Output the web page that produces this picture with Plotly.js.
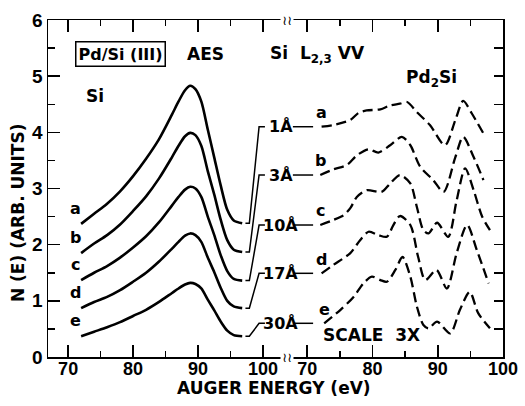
<!DOCTYPE html>
<html>
<head>
<meta charset="utf-8">
<script src="https://cdn.plot.ly/plotly-3.0.1.min.js"></script>
<style>html,body{margin:0;padding:0;background:#fff;}#chart{width:525px;height:406px;}</style>
</head>
<body>
<div id="chart"></div>
<script>
// ---- Data ----
// Left panel: Si L2,3VV, energies (eV)
const siEnergy = [72, 74, 76, 78, 80, 82, 84, 86, 87, 88, 88.8, 89.6, 90.5, 91.5, 92.5, 93.5, 94.5, 95.5, 96.8];
const siA = [2.37, 2.55, 2.73, 2.95, 3.22, 3.53, 3.88, 4.32, 4.55, 4.75, 4.83, 4.77, 4.55, 4.05, 3.55, 3.05, 2.62, 2.43, 2.38];
const siB = [1.85, 2.02, 2.17, 2.36, 2.60, 2.86, 3.18, 3.56, 3.76, 3.93, 3.99, 3.95, 3.76, 3.31, 2.89, 2.44, 2.08, 1.91, 1.87];
const siC = [1.37, 1.50, 1.62, 1.77, 1.95, 2.15, 2.40, 2.70, 2.85, 2.98, 3.03, 3.00, 2.85, 2.50, 2.17, 1.81, 1.53, 1.39, 1.36];
const siD = [0.87, 0.98, 1.07, 1.19, 1.34, 1.50, 1.70, 1.93, 2.05, 2.16, 2.20, 2.17, 2.05, 1.77, 1.51, 1.23, 1.00, 0.90, 0.87];
const siE = [0.37, 0.45, 0.53, 0.62, 0.73, 0.84, 0.98, 1.14, 1.22, 1.29, 1.32, 1.30, 1.22, 1.02, 0.83, 0.63, 0.47, 0.39, 0.37];

// Right panel: Pd2Si (scale 3X)
const pdAx = [72.2, 74.0, 76.6, 77.9, 79.1, 81.2, 82.7, 84.2, 85.3, 86.8, 88.8, 91.1, 92.7, 93.9, 95.2, 97.0];
const pdAy = [4.10, 4.13, 4.22, 4.35, 4.39, 4.41, 4.48, 4.51, 4.54, 4.36, 4.13, 3.77, 4.22, 4.56, 4.34, 3.98];
const pdBx = [72.0, 74.0, 76.1, 77.6, 79.4, 80.9, 82.7, 84.5, 85.8, 87.3, 89.3, 90.9, 92.7, 93.9, 95.5, 97.0];
const pdBy = [3.24, 3.34, 3.42, 3.59, 3.70, 3.64, 3.77, 3.92, 3.77, 3.39, 3.15, 2.94, 3.56, 3.92, 3.56, 3.15];
const pdCx = [72.0, 74.0, 75.5, 76.6, 77.6, 79.1, 81.4, 82.7, 84.2, 85.8, 86.8, 87.8, 88.6, 89.9, 91.6, 92.9, 94.2, 95.5, 96.8, 98.0];
const pdCy = [2.35, 2.44, 2.52, 2.65, 2.85, 2.97, 2.94, 3.09, 3.24, 3.09, 2.67, 2.26, 2.20, 2.39, 2.14, 2.79, 3.36, 2.97, 2.50, 2.26];
const pdDx = [72.2, 74.0, 76.6, 78.1, 79.4, 80.9, 82.2, 83.2, 84.2, 85.8, 87.0, 88.1, 89.8, 91.4, 92.9, 94.5, 96.0, 97.8];
const pdDy = [1.49, 1.64, 1.85, 2.08, 2.23, 2.17, 2.14, 2.35, 2.51, 2.35, 1.78, 1.37, 1.55, 1.22, 1.85, 2.35, 1.90, 1.31];
const pdEx = [72.6, 75.1, 77.1, 78.6, 79.9, 81.2, 82.2, 83.5, 84.6, 85.8, 86.8, 87.8, 88.6, 89.9, 91.9, 93.4, 94.9, 96.2, 98.0];
const pdEy = [0.60, 0.84, 1.07, 1.31, 1.43, 1.37, 1.34, 1.55, 1.78, 1.43, 0.90, 0.57, 0.51, 0.63, 0.42, 0.84, 1.16, 0.78, 0.51];

const curveLetters = ['a', 'b', 'c', 'd', 'e'];
const thicknessLabels = ['1Å', '3Å', '10Å', '17Å', '30Å'];
const xTickVals = [70, 80, 90, 100];

// ---- Build chart ----
const TICKFONT = 'Liberation Sans, Arial, Helvetica, sans-serif';
const FONT = 'DejaVu Sans, Verdana, sans-serif';
const bold = (size, fam) => ({family: fam || FONT, size: size, color: '#000', weight: 'bold'});
const siSeries = [siA, siB, siC, siD, siE];
const pdSeries = [[pdAx, pdAy], [pdBx, pdBy], [pdCx, pdCy], [pdDx, pdDy], [pdEx, pdEy]];

const traces = [];
const annotations = [];

siSeries.forEach((ys, i) => {
  traces.push({x: siEnergy, y: ys, xaxis: 'x', yaxis: 'y', mode: 'lines',
    line: {color: '#000', width: 2.6, shape: 'spline', smoothing: 0.8}, hoverinfo: 'skip'});
  annotations.push({xref: 'x', yref: 'y', x: siEnergy[0] - 0.9, y: ys[0] + 0.28, text: curveLetters[i],
    xanchor: 'center', yanchor: 'middle', showarrow: false, font: bold(16)});
});

pdSeries.forEach(([xs, ys], i) => {
  traces.push({x: xs, y: ys, xaxis: 'x2', yaxis: 'y2', mode: 'lines',
    line: {color: '#000', width: 2.3, dash: '10px,5px', shape: 'spline', smoothing: 0.8}, hoverinfo: 'skip'});
  annotations.push({xref: 'x2', yref: 'y2', x: xs[0], y: ys[0] + 0.25, text: curveLetters[i],
    xanchor: 'center', yanchor: 'middle', showarrow: false, font: bold(16)});
  // bracket connector from Si curve end to thickness label
  const leftEnd = siSeries[i][siSeries[i].length - 1];
  traces.push({x: [97.3, 97.9, 99.4, 100.3], y: [leftEnd, leftEnd, ys[0], ys[0]], xaxis: 'x', yaxis: 'y',
    mode: 'lines', line: {color: '#000', width: 1.5}, hoverinfo: 'skip'});
  traces.push({x: [67.8, 70.9], y: [ys[0], ys[0]], xaxis: 'x2', yaxis: 'y2',
    mode: 'lines', line: {color: '#000', width: 1.5}, hoverinfo: 'skip'});
  annotations.push({xref: 'x', yref: 'y', x: 102.7, y: ys[0], text: thicknessLabels[i],
    xanchor: 'center', yanchor: 'middle', showarrow: false, font: bold(16)});
});

const txt = (x, y, text, size, extra) => Object.assign({xref: 'paper', yref: 'paper', x, y, text, showarrow: false,
  xanchor: 'center', yanchor: 'middle', font: bold(size)}, extra || {});

annotations.push(txt(0.160, 0.899, 'Pd/Si (III)', 16, {bordercolor: '#000', borderwidth: 1.5, borderpad: 2}));
annotations.push(txt(0.347, 0.899, 'AES', 17));
annotations.push(txt(0.103, 0.775, 'Si', 17));
annotations.push(txt(0.592, 0.899, 'Si&nbsp;&nbsp;L<sub>2,3</sub>&nbsp;VV', 17));
annotations.push(txt(0.842, 0.825, 'Pd<sub>2</sub>Si', 17));
annotations.push(txt(0.710, 0.065, 'SCALE&nbsp;&nbsp;3X', 17));
annotations.push(txt(0.497, -0.092, 'AUGER ENERGY (eV)', 17));
annotations.push(txt(-0.066, 0.43, 'N (E) (ARB. UNITS)', 17, {textangle: -90}));
annotations.push(txt(0.5253, 1.0, '≀≀', 13, {bgcolor: '#fff', font: {family: FONT, size: 13, color: '#000'}}));
annotations.push(txt(0.5253, 0.0, '≀≀', 13, {bgcolor: '#fff', font: {family: FONT, size: 13, color: '#000'}}));

const xCommon = {
  showline: true, linecolor: '#000', linewidth: 1.5, mirror: 'ticks',
  ticks: 'inside', ticklen: 12, tickwidth: 1.5, tickcolor: '#000',
  tickvals: xTickVals, showgrid: false, zeroline: false,
  tickfont: bold(18, TICKFONT), ticklabelstandoff: -5,
  minor: {ticks: 'inside', ticklen: 6, tickwidth: 1.5, tickcolor: '#000', dtick: 5, tick0: 0, showgrid: false},
  fixedrange: true
};

const layout = {
  width: 525, height: 406,
  margin: {l: 48, r: 22, t: 20, b: 49},
  paper_bgcolor: '#fff', plot_bgcolor: '#fff',
  showlegend: false,
  font: {family: FONT, color: '#000'},
  xaxis: Object.assign({}, xCommon, {domain: [0, 0.5253], range: [66.9, 103.7], anchor: 'y'}),
  xaxis2: Object.assign({}, xCommon, {domain: [0.5253, 1], range: [66.9, 100], anchor: 'y2'}),
  yaxis: {
    range: [0, 6], showline: true, linecolor: '#000', linewidth: 1.5, mirror: false,
    ticks: 'inside', ticklen: 12, tickwidth: 1.5, tickcolor: '#000', dtick: 1, tick0: 0,
    showgrid: false, zeroline: false, anchor: 'x',
    tickfont: bold(19, TICKFONT),
    minor: {ticks: 'inside', ticklen: 7, tickwidth: 1.5, tickcolor: '#000', dtick: 0.5, showgrid: false},
    fixedrange: true
  },
  yaxis2: {
    range: [0, 6], showline: true, linecolor: '#000', linewidth: 1.5, side: 'right', anchor: 'x2',
    ticks: 'inside', ticklen: 9, tickwidth: 1.5, tickcolor: '#000', dtick: 0.5, tick0: 0,
    showticklabels: false, showgrid: false, zeroline: false, fixedrange: true
  },
  annotations: annotations
};

Plotly.newPlot('chart', traces, layout, {staticPlot: true, displayModeBar: false});
</script>
</body>
</html>
